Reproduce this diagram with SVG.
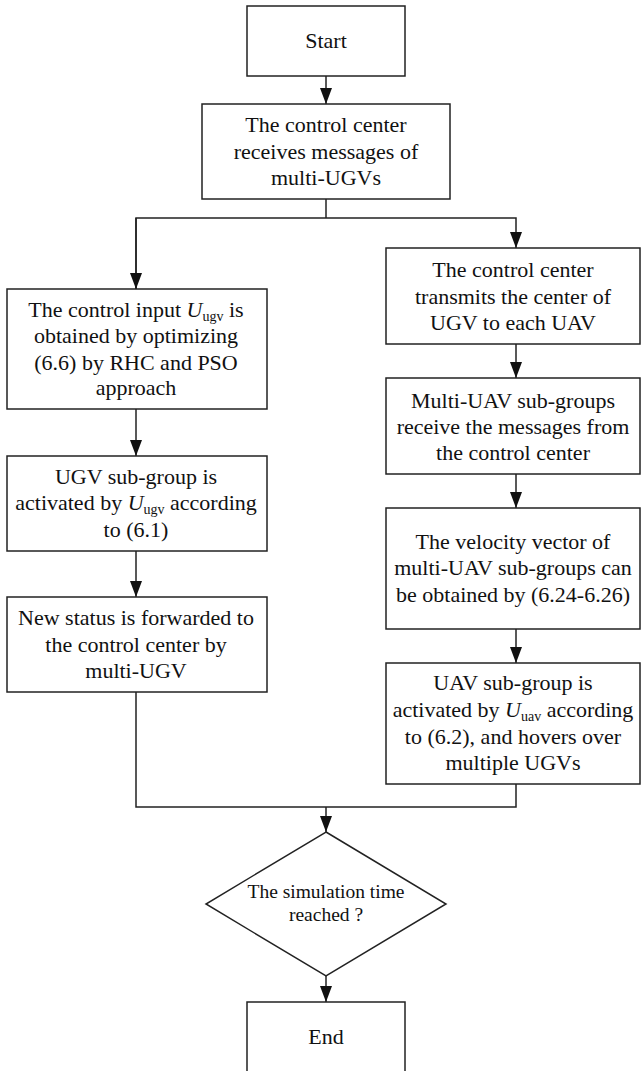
<svg xmlns="http://www.w3.org/2000/svg" width="641" height="1071" viewBox="0 0 641 1071">
<style>
.box{fill:#fff;stroke:#222;stroke-width:1.5}
.ln{fill:none;stroke:#222;stroke-width:1.5}
.t{font-family:"Liberation Serif","Times New Roman",serif;font-size:22px;fill:#111;text-anchor:middle}
.td{font-family:"Liberation Serif","Times New Roman",serif;font-size:19.5px;fill:#111;text-anchor:middle}
.i{font-style:italic}
.s{font-size:14px}
</style>
<defs>
<marker id="ah" viewBox="0 0 16 12" refX="16" refY="6" markerWidth="16" markerHeight="12" markerUnits="userSpaceOnUse" orient="auto">
<path d="M0,0 L16,6 L0,12 Z" fill="#111"/>
</marker>
</defs>
<rect width="641" height="1071" fill="#fff"/>
<g id="connectors">
<line class="ln" x1="326" y1="76" x2="326" y2="104" marker-end="url(#ah)"/>
<polyline class="ln" points="326,199 326,218"/>
<polyline class="ln" points="136,289 136,218 516,218 516,248" marker-end="url(#ah)"/>
<line class="ln" x1="136" y1="218" x2="136" y2="289" marker-end="url(#ah)"/>
<line class="ln" x1="136" y1="409" x2="136" y2="456" marker-end="url(#ah)"/>
<line class="ln" x1="136" y1="551" x2="136" y2="597" marker-end="url(#ah)"/>
<line class="ln" x1="516" y1="344" x2="516" y2="378" marker-end="url(#ah)"/>
<line class="ln" x1="516" y1="474" x2="516" y2="508" marker-end="url(#ah)"/>
<line class="ln" x1="516" y1="629" x2="516" y2="663" marker-end="url(#ah)"/>
<polyline class="ln" points="136,692 136,807 516,807 516,784"/>
<line class="ln" x1="326" y1="807" x2="326" y2="832" marker-end="url(#ah)"/>
<line class="ln" x1="326" y1="976" x2="326" y2="1002" marker-end="url(#ah)"/>
</g>
<g id="start">
<rect class="box" x="247" y="6" width="158" height="70"/>
<text class="t" x="326" y="48">Start</text>
</g>
<g id="receive">
<rect class="box" x="202" y="104" width="248" height="95"/>
<text class="t" x="326" y="132">The control center</text>
<text class="t" x="326" y="159">receives messages of</text>
<text class="t" x="326" y="185">multi-UGVs</text>
</g>
<g id="control-input">
<rect class="box" x="7" y="289" width="260" height="120"/>
<text class="t" x="136" y="317">The control input <tspan class="i">U</tspan><tspan class="s" dy="4">ugv</tspan><tspan dy="-4"> is</tspan></text>
<text class="t" x="136" y="343">obtained by optimizing</text>
<text class="t" x="136" y="370">(6.6) by RHC and PSO</text>
<text class="t" x="136" y="395">approach</text>
</g>
<g id="ugv-activated">
<rect class="box" x="7" y="456" width="260" height="95"/>
<text class="t" x="136" y="484">UGV sub-group is</text>
<text class="t" x="136" y="510">activated by <tspan class="i">U</tspan><tspan class="s" dy="4">ugv</tspan><tspan dy="-4"> according</tspan></text>
<text class="t" x="136" y="537">to (6.1)</text>
</g>
<g id="new-status">
<rect class="box" x="7" y="597" width="260" height="95"/>
<text class="t" x="136" y="625">New status is forwarded to</text>
<text class="t" x="136" y="652">the control center by</text>
<text class="t" x="136" y="678">multi-UGV</text>
</g>
<g id="transmit">
<rect class="box" x="386" y="248" width="254" height="96"/>
<text class="t" x="513" y="277">The control center</text>
<text class="t" x="513" y="304">transmits the center of</text>
<text class="t" x="513" y="330">UGV to each UAV</text>
</g>
<g id="uav-receive">
<rect class="box" x="386" y="378" width="254" height="96"/>
<text class="t" x="513" y="408">Multi-UAV sub-groups</text>
<text class="t" x="513" y="434">receive the messages from</text>
<text class="t" x="513" y="460">the control center</text>
</g>
<g id="velocity">
<rect class="box" x="386" y="508" width="254" height="121"/>
<text class="t" x="513" y="549">The velocity vector of</text>
<text class="t" x="513" y="575">multi-UAV sub-groups can</text>
<text class="t" x="513" y="602">be obtained by (6.24-6.26)</text>
</g>
<g id="uav-activated">
<rect class="box" x="386" y="663" width="254" height="121"/>
<text class="t" x="513" y="690">UAV sub-group is</text>
<text class="t" x="513" y="717">activated by <tspan class="i">U</tspan><tspan class="s" dy="4">uav</tspan><tspan dy="-4"> according</tspan></text>
<text class="t" x="513" y="744">to (6.2), and hovers over</text>
<text class="t" x="513" y="770">multiple UGVs</text>
</g>
<g id="decision">
<polygon class="box" points="326,832 446,904 326,976 206,904"/>
<text class="td" x="326" y="898">The simulation time</text>
<text class="td" x="326" y="921">reached ?</text>
</g>
<g id="end">
<rect class="box" x="247" y="1002" width="158" height="70"/>
<text class="t" x="326" y="1044">End</text>
</g>
</svg>
